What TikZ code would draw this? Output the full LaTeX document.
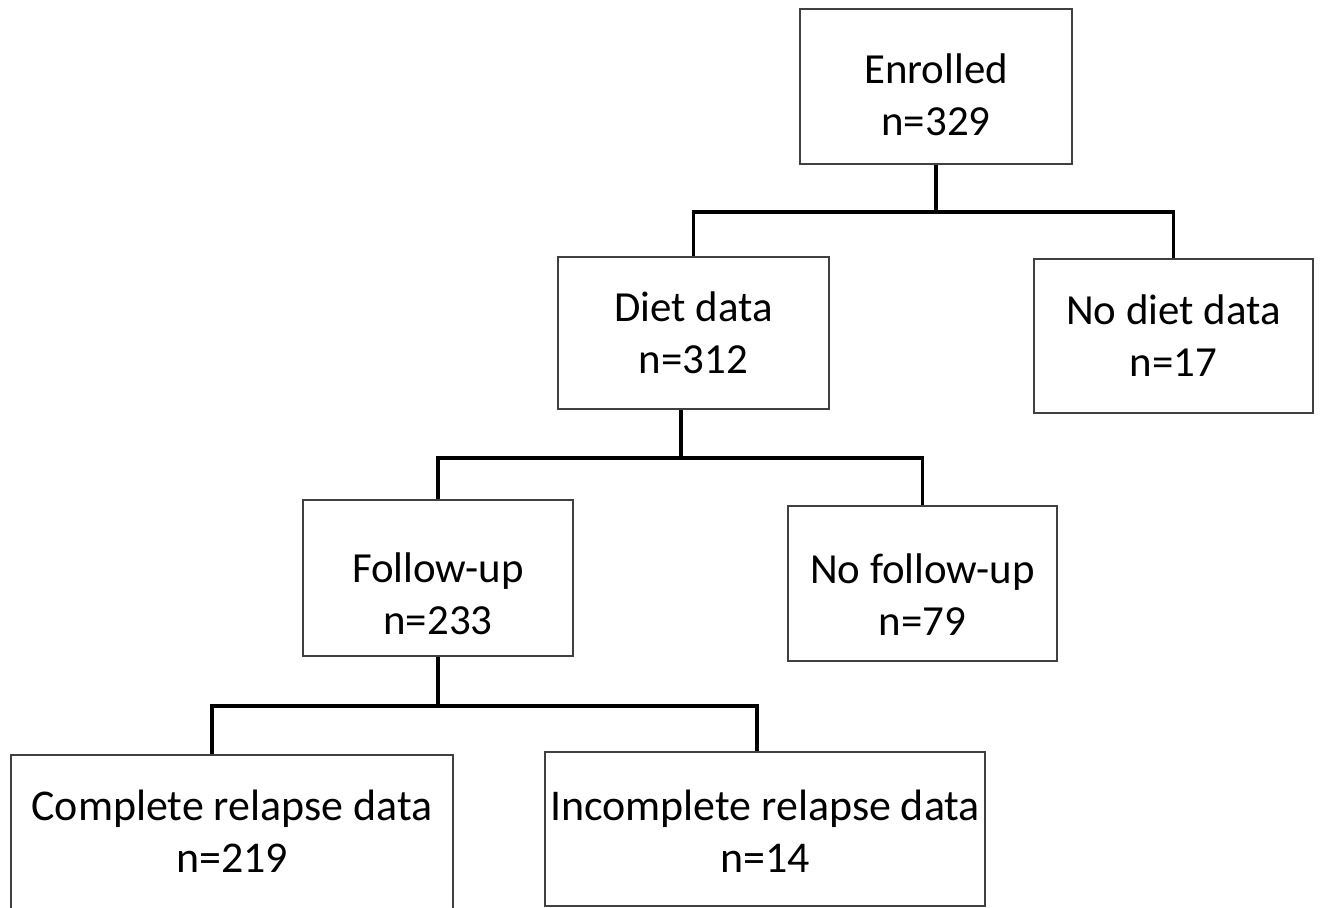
\documentclass[tikz,border=0pt]{standalone}
\usepackage{fontspec}
\setmainfont{Carlito}
\usetikzlibrary{positioning,calc}

\tikzset{
  box/.style={draw=black!75,line width=1.1pt,align=center,inner sep=0pt,
    font=\fontsize{24.4}{30}\selectfont,text depth=0pt},
  widebox/.style={box,font=\fontsize{25}{30}\selectfont},
  link/.style={line width=1.8pt}
}

\begin{document}
\begin{tikzpicture}[x=0.02cm,y=-0.02cm]
  \useasboundingbox (0,0) rectangle (1320,908);
  % boxes
  \node[box,minimum width=5.44cm,minimum height=3.10cm,text height=1.98cm] (enrolled) at (936,86.5) {Enrolled\\n=329};
  \node[box,minimum width=5.42cm,minimum height=3.04cm,text height=1.64cm] (diet) at (693.5,333) {Diet data\\n=312};
  \node[box,minimum width=5.58cm,minimum height=3.08cm,text height=1.64cm] (nodiet) at (1173.5,336) {No diet data\\n=17};
  \node[box,minimum width=5.40cm,minimum height=3.12cm,text height=2.28cm] (followup) at (438,578) {Follow-up\\n=233};
  \node[box,minimum width=5.38cm,minimum height=3.10cm,text height=2.10cm] (nofollow) at (922.5,583.5) {No follow-up\\n=79};
  \node[widebox,minimum width=8.84cm,minimum height=3.10cm,text height=1.62cm] (complete) at (232,832.5) {Complete relapse data\\n=219};
  \node[widebox,minimum width=8.80cm,minimum height=3.08cm,text height=1.76cm] (incomplete) at (765,829) {Incomplete relapse data\\n=14};
  % junctions
  \coordinate (bar1) at (0,212);
  \coordinate (t2) at (681,458);
  \coordinate (d3l) at (212,706);
  \coordinate (d3r) at (757,706);
  % connectors
  \draw[link] (enrolled.south) -- (enrolled.south |- bar1);
  \draw[link] (diet.north) -- (diet.north |- bar1) -- (nodiet.north |- bar1) -- (nodiet.north);
  \draw[link] (diet.south -| t2) -- (t2);
  \draw[link] (followup.north) -- (followup.north |- t2) -- (nofollow.north |- t2) -- (nofollow.north);
  \draw[link] (followup.south) -- (followup.south |- d3l);
  \draw[link] (complete.north -| d3l) -- (d3l) -- (d3r) -- (incomplete.north -| d3r);
\end{tikzpicture}
\end{document}
